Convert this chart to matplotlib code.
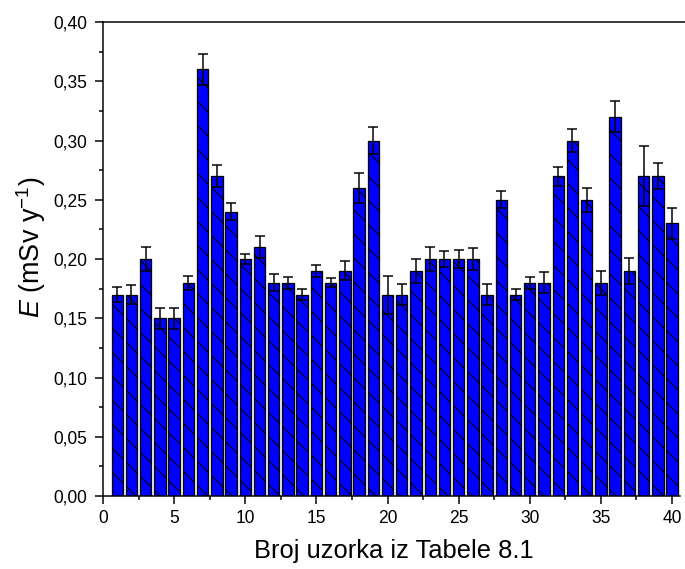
import numpy as np
import matplotlib
matplotlib.use("Agg")
import matplotlib.pyplot as plt
from matplotlib.ticker import MultipleLocator, FuncFormatter

# uzorci 1..40, efektivna doza i greska
uzorak = list(range(1, 41))
doza = [0.17, 0.17, 0.20, 0.15, 0.15, 0.18, 0.36, 0.27, 0.24, 0.20,
        0.21, 0.18, 0.18, 0.17, 0.19, 0.18, 0.19, 0.26, 0.30, 0.17,
        0.17, 0.19, 0.20, 0.20, 0.20, 0.20, 0.17, 0.25, 0.17, 0.18,
        0.18, 0.27, 0.30, 0.25, 0.18, 0.32, 0.19, 0.27, 0.27, 0.23]
greska = [0.006, 0.008, 0.010, 0.009, 0.009, 0.006, 0.013, 0.009, 0.007, 0.004,
          0.009, 0.007, 0.005, 0.005, 0.005, 0.004, 0.008, 0.013, 0.011, 0.016,
          0.009, 0.010, 0.010, 0.007, 0.008, 0.009, 0.009, 0.007, 0.005, 0.005,
          0.009, 0.008, 0.010, 0.010, 0.010, 0.013, 0.011, 0.025, 0.011, 0.013]

plt.rcParams['font.family'] = ['Liberation Sans', 'DejaVu Sans']
plt.rcParams['hatch.linewidth'] = 1.0
plt.rcParams['mathtext.fontset'] = 'custom'
plt.rcParams['mathtext.rm'] = 'Liberation Sans'
plt.rcParams['mathtext.it'] = 'Liberation Sans:italic'

fig = plt.figure(figsize=(685 / 72, 569 / 72), dpi=72)
ax = fig.add_axes([0.1504, 0.1283, 0.8496, 0.833])

ax.bar(uzorak, doza, width=0.8, color='#0000FF', edgecolor='black',
       linewidth=1.3, hatch='\\')
ax.errorbar(uzorak, doza, yerr=greska, fmt='none', ecolor='black',
            elinewidth=1.5, capsize=5, capthick=1.5)

ax.set_xlim(0, 40.91)
ax.set_ylim(0, 0.40)
ax.xaxis.set_major_locator(MultipleLocator(5))
ax.xaxis.set_minor_locator(MultipleLocator(2.5))
ax.yaxis.set_major_locator(MultipleLocator(0.05))
ax.yaxis.set_minor_locator(MultipleLocator(0.025))
ax.yaxis.set_major_formatter(FuncFormatter(lambda v, p: f"{v:.2f}".replace('.', ',')))

ax.tick_params(which='major', direction='out', length=8, width=1.5, labelsize=17.5)
ax.tick_params(which='minor', direction='out', length=4, width=1.5)
ax.tick_params(axis='x', pad=6)
ax.tick_params(axis='y', pad=8)
for s in ['left', 'bottom', 'top']:
    ax.spines[s].set_linewidth(1.5)
ax.spines['right'].set_visible(False)
ax.spines['bottom'].set_bounds(0, 40.55)

ax.set_xlabel('Broj uzorka iz Tabele 8.1', fontsize=25.5, labelpad=12)
ax.set_ylabel(r'$\mathit{E}$ (mSv y$^{-1}$)', fontsize=27)
ax.yaxis.set_label_coords(-0.095, 0.525)

fig.savefig("out.png", dpi=72)
